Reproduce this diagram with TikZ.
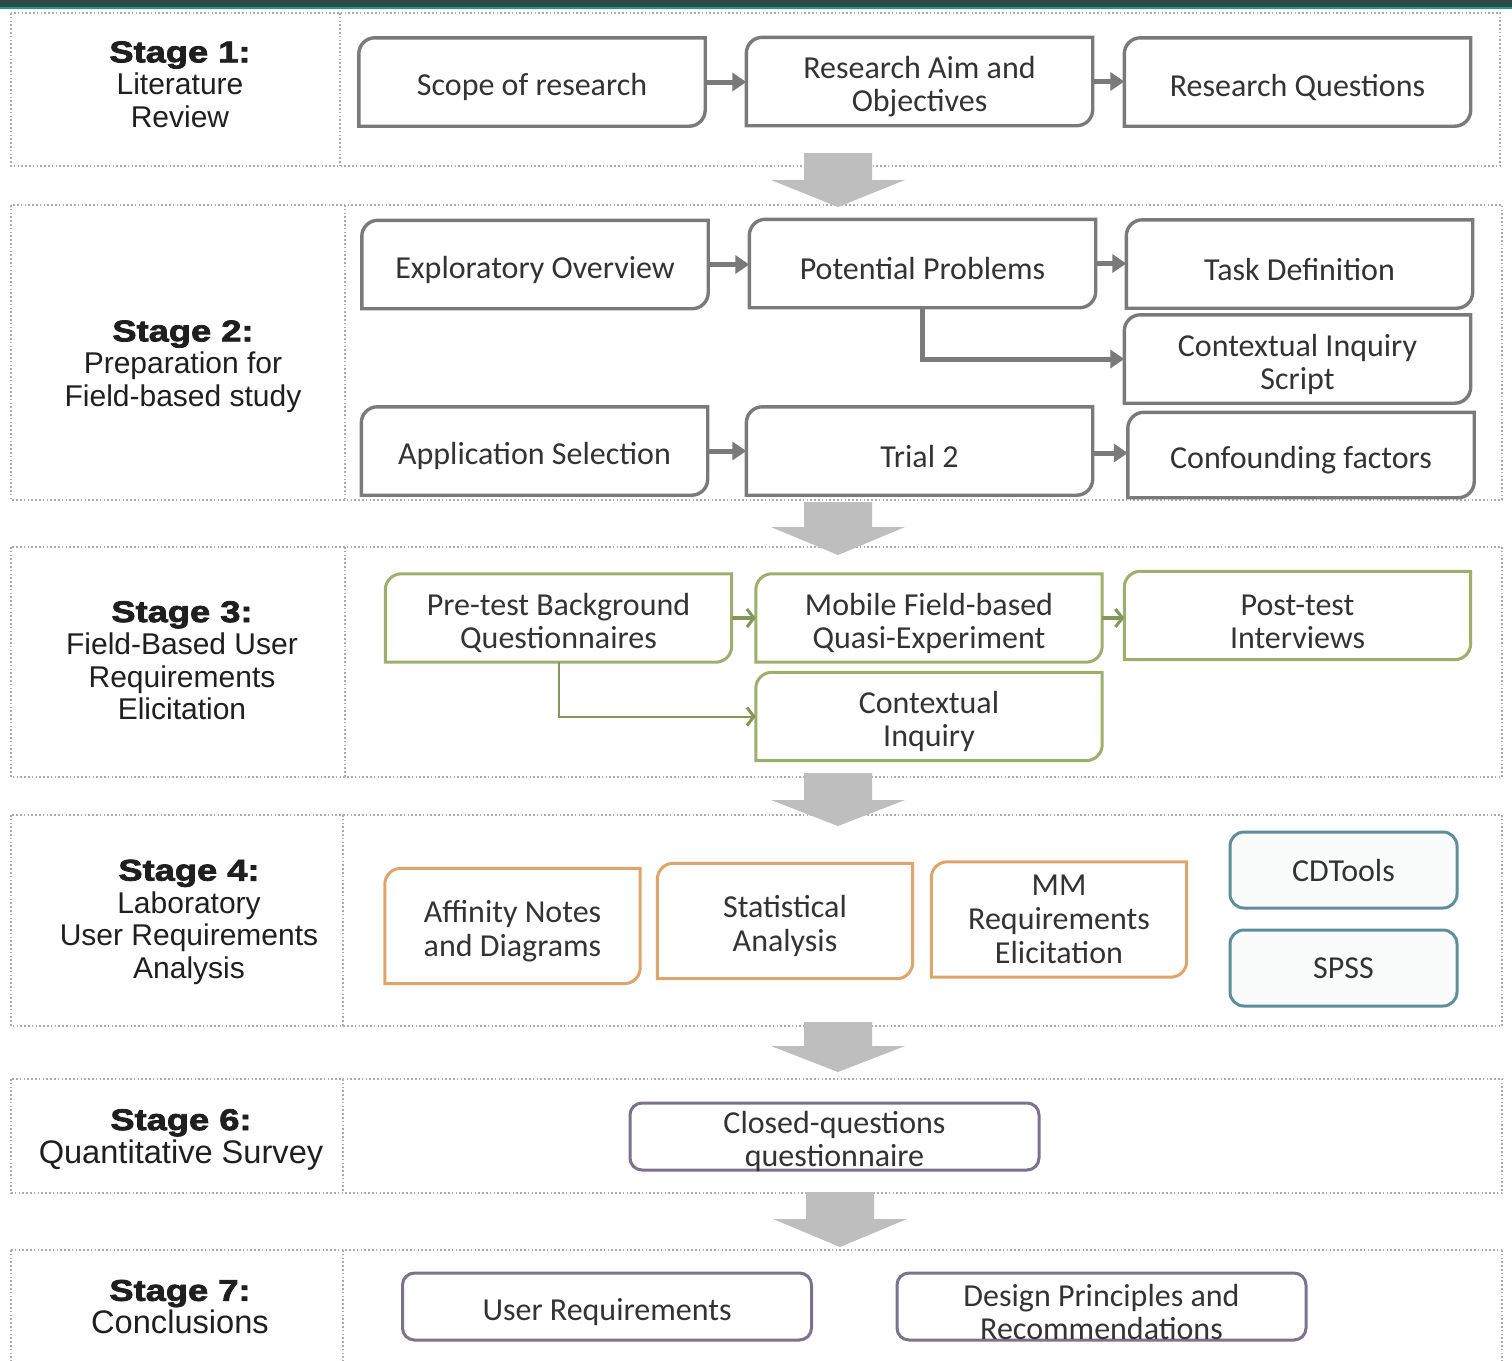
\documentclass[tikz,border=0pt]{standalone}
\usepackage{fontspec}
\setmainfont{Carlito}
\newfontfamily\labelfont{Liberation Sans}[BoldFeatures={FakeBold=2.5,FakeStretch=1.21}]
\usetikzlibrary{arrows.meta,calc}

\definecolor{barDark}{HTML}{2E4A47}
\definecolor{barTeal}{HTML}{1D9A98}
\definecolor{panelLine}{HTML}{ABABAB}
\definecolor{boxGray}{HTML}{7A7A7A}
\definecolor{boxGreen}{HTML}{9CB06C}
\definecolor{boxOrange}{HTML}{DFA46C}
\definecolor{boxTeal}{HTML}{5E8F99}
\definecolor{boxPurple}{HTML}{7C7290}
\definecolor{bigArrow}{HTML}{BEBEBE}
\definecolor{txt}{HTML}{333333}

% corner radius of the diagonal-rounded boxes and its bezier handle
\newcommand\rc{16pt}
\newcommand\rh{7.2pt}
% invisible strut that sets box text a little lower
\newcommand\lift{\rule{0pt}{33pt}}
% frame with rounded top-left and bottom-right corners
\newcommand\diagframe[2]{%
  \draw[#2] ([yshift=-\rc]#1.north west) -- (#1.south west)
    -- ([xshift=-\rc]#1.south east)
    .. controls ([xshift=-\rh]#1.south east) and ([yshift=\rh]#1.south east) .. ([yshift=\rc]#1.south east)
    -- (#1.north east) -- ([xshift=\rc]#1.north west)
    .. controls ([xshift=\rh]#1.north west) and ([yshift=-\rh]#1.north west) .. ([yshift=-\rc]#1.north west) -- cycle;}
% wide grey arrow between two stages: centre x, top, head start, tip
\newcommand\stagedown[4]{%
  \fill[stagearrow] (#1-34,#2) -- (#1+34,#2) -- (#1+34,#3) -- (#1+67,#3)
    -- (#1,#4) -- (#1-67,#3) -- (#1-34,#3) -- cycle;}

\tikzset{
  panel/.style={draw=panelLine, line width=1.6pt, dash pattern=on 1.6pt off 2.2pt},
  stagelabel/.style={align=center, text=black!88, inner sep=0pt,
    font=\labelfont\fontsize{30}{32.5}\selectfont},
  biglabel/.style={stagelabel, font=\labelfont\fontsize{32.6}{33}\selectfont},
  box/.style={rectangle, minimum width=346pt, minimum height=88pt, inner sep=0pt,
    align=center, text=txt, font=\fontsize{32}{33}\selectfont},
  smallbox/.style={box, minimum width=255pt, minimum height=115pt, font=\fontsize{32}{34}\selectfont},
  wide/.style={box, minimum width=409pt, minimum height=67pt, draw=boxPurple,
    line width=3pt, rounded corners=12pt, inner ysep=-6pt},
  tool/.style={box, minimum width=227pt, minimum height=76pt, draw=boxTeal,
    fill=boxTeal!3, line width=3pt, rounded corners=14pt},
  grayframe/.style={draw=boxGray, line width=3.4pt},
  greenframe/.style={draw=boxGreen, line width=3pt},
  orangeframe/.style={draw=boxOrange, line width=3pt},
  flow/.style={draw=boxGray, line width=5pt, -{Triangle[length=14pt,width=18pt]}},
  greenflow/.style={draw=boxGreen!85!black, line width=2pt,
    -{Straight Barb[length=7pt,width=18pt,line width=3pt]}},
  greenflowthick/.style={greenflow, line width=3.5pt},
  stagearrow/.style={fill=bigArrow},
}

\begin{document}
\begin{tikzpicture}[x=1pt,y=-1pt]
\useasboundingbox (0,0) rectangle (1512,1360);
\fill[white] (0,0) rectangle (1512,1360);

% header strip
\fill[barDark] (0,0) rectangle (1512,6.5);
\fill[barTeal] (0,6.5) rectangle (1512,9);

% stage panels
\draw[panel] (11,13) rectangle (1500,166);   \draw[panel] (340,13) -- (340,166);
\draw[panel] (11,205) rectangle (1502,500);  \draw[panel] (345,205) -- (345,500);
\draw[panel] (11,547) rectangle (1502,777);  \draw[panel] (345,547) -- (345,777);
\draw[panel] (11,815) rectangle (1502,1026); \draw[panel] (343,815) -- (343,1026);
\draw[panel] (11,1079) rectangle (1502,1193); \draw[panel] (343,1079) -- (343,1193);
\draw[panel] (11,1250) -- (1502,1250);
\draw[panel] (11,1250) -- (11,1362);  \draw[panel] (1502,1250) -- (1502,1362);
\draw[panel] (343,1250) -- (343,1362);

% arrows between stages
\stagedown{838}{153}{180}{207}
\stagedown{838}{502}{527}{555}
\stagedown{838}{773}{800}{826}
\stagedown{838}{1022}{1046}{1072}
\stagedown{840}{1192}{1219}{1247}

% stage labels
\node[stagelabel] (l1) at (180,84.5) {{\bfseries Stage 1:}\\Literature\\Review};
\node[stagelabel] (l2) at (183,366.5) {{\bfseries Stage 2:}\\Preparation for\\Field-based study};
\node[stagelabel] (l3) at (182,660.5) {{\bfseries Stage 3:}\\Field-Based User\\Requirements\\Elicitation};
\node[stagelabel] (l4) at (189,922) {{\bfseries Stage 4:}\\Laboratory\\User Requirements\\Analysis};
\node[biglabel] (l6) at (181,1139.5) {{\fontsize{30}{33}\selectfont\bfseries Stage 6:}\\Quantitative Survey};
\node[biglabel] (l7) at (180,1307) {{\fontsize{30}{33}\selectfont\bfseries Stage 7:}\\Conclusions};

% stage 1
\node[box] (s1a) at (532,82) {\lift Scope of research};
\node[box] (s1b) at (919.5,81.5) {\lift Research Aim and\\Objectives};
\node[box] (s1c) at (1297.5,82) {\lift Research Questions};
\foreach \n in {s1a,s1b,s1c} {\diagframe{\n}{grayframe}}
\draw[flow] (s1a.east) -- (s1a.east -| s1b.west);
\draw[flow] (s1b.east) -- (s1b.east -| s1c.west);

% stage 2
\node[box] (s2a) at (535,264.5) {\lift Exploratory Overview};
\node[box] (s2b) at (922.5,263.5) {\lift Potential Problems};
\node[box] (s2c) at (1299.5,264) {\lift Task Definition};
\node[box] (s2d) at (1297.5,359) {\lift Contextual Inquiry\\Script};
\node[box] (s2e) at (534.5,451) {\lift Application Selection};
\node[box] (s2f) at (919.5,451) {\lift Trial 2};
\node[box, minimum height=85pt] (s2g) at (1301,455) {\lift Confounding factors};
\foreach \n in {s2a,s2b,s2c,s2d,s2e,s2f,s2g} {\diagframe{\n}{grayframe}}
\draw[flow] (s2a.east) -- (s2a.east -| s2b.west);
\draw[flow] (s2b.east) -- (s2b.east -| s2c.west);
\draw[flow] (s2b.south) |- (s2d.west);
\draw[flow] (s2e.east) -- (s2e.east -| s2f.west);
\draw[flow] ([yshift=-2pt]s2f.east) -- ([yshift=-2pt]s2f.east -| s2g.west);

% stage 3
\node[box] (g1) at (558.5,618) {\lift Pre-test Background\\Questionnaires};
\node[box] (g2) at (929,618) {\lift Mobile Field-based\\Quasi-Experiment};
\node[box] (g3) at (1297.5,615.5) {\lift Post-test\\Interviews};
\node[box] (g4) at (929,716.5) {\lift Contextual\\Inquiry};
\foreach \n in {g1,g2,g3,g4} {\diagframe{\n}{greenframe}}
\draw[greenflowthick] (g1.east) -- (g2.west);
\draw[greenflowthick] (g2.east) -- (g2.east -| g3.west);
\draw[greenflow] (g1.south) |- (g4.west);

% stage 4
\node[smallbox] (o1) at (512.5,926) {\lift Affinity Notes\\and Diagrams};
\node[smallbox] (o2) at (785,921) {\lift Statistical\\Analysis};
\node[smallbox] (o3) at (1059,919.5) {MM\\Requirements\\Elicitation};
\foreach \n in {o1,o2,o3} {\diagframe{\n}{orangeframe}}
\node[tool] (t1) at (1343.5,870) {CDTools};
\node[tool] (t2) at (1343.5,968) {SPSS};

% stage 6
\node[wide] (q1) at (834.5,1136.5) {\lift Closed-questions\\questionnaire};

% stage 7
\node[wide] (c1) at (607,1306.5) {\lift User Requirements};
\node[wide] (c2) at (1101.5,1306.5) {\lift Design Principles and\\Recommendations};
\end{tikzpicture}
\end{document}
